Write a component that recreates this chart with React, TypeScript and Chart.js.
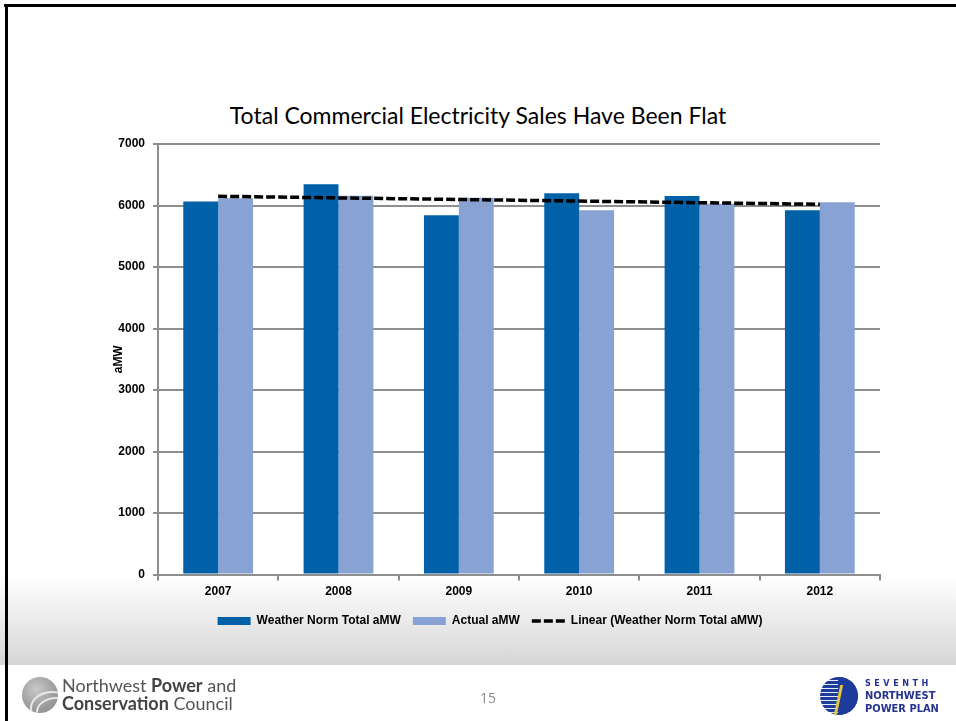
import React, { useEffect, useRef } from "react";
import { Chart, registerables } from "chart.js";

Chart.register(...registerables);

// ---- data ----
const categories = ["2007", "2008", "2009", "2010", "2011", "2012"];
const weatherNormTotal = [6066, 6344, 5840, 6200, 6155, 5922];
const actualAMW = [6120, 6159, 6125, 5922, 6030, 6055];
// straight trend line: read at its two ends, drawn across the gap
const linearTrend: (number | null)[] = [6150, null, null, null, null, 6020];
const yMin = 0;
const yMax = 7000;
const yStep = 1000;
const seriesNames = [
  "Weather Norm Total aMW",
  "Actual aMW",
  "Linear (Weather Norm Total aMW)",
];
const chartTitle = "Total Commercial Electricity Sales Have Been Flat";
const yAxisTitle = "aMW";
const pageNumber = "15";

const DARK = "#0060A8";
const LIGHT = "#87A2D3";
const GRID = "#8e8e8e";
const FONT = "'Liberation Sans', Arial, sans-serif";
const TREND_DASH = [9, 3];

export default function App() {
  const canvasRef = useRef<HTMLCanvasElement | null>(null);

  useEffect(() => {
    const canvas = canvasRef.current;
    if (!canvas) return;
    const tickFont = { family: FONT, size: 12, weight: "bold" as const };
    const chart = new Chart(canvas, {
      type: "bar",
      data: {
        labels: categories,
        datasets: [
          {
            type: "bar",
            label: seriesNames[0],
            data: weatherNormTotal,
            backgroundColor: DARK,
            categoryPercentage: 0.58,
            barPercentage: 1,
            order: 2,
          },
          {
            type: "bar",
            label: seriesNames[1],
            data: actualAMW,
            backgroundColor: LIGHT,
            categoryPercentage: 0.58,
            barPercentage: 1,
            order: 2,
          },
          {
            type: "line",
            label: seriesNames[2],
            data: linearTrend,
            borderColor: "#000000",
            backgroundColor: "#000000",
            borderWidth: 3.5,
            borderDash: TREND_DASH,
            pointRadius: 0,
            spanGaps: true,
            fill: false,
            order: 0,
          } as any,
        ],
      },
      options: {
        responsive: false,
        animation: false,
        layout: { padding: { left: 100, right: 76, top: 144, bottom: 84 } },
        plugins: {
          title: { display: false },
          tooltip: { enabled: false },
          legend: {
            position: "bottom",
            labels: {
              usePointStyle: true,
              pointStyleWidth: 33,
              boxHeight: 8,
              padding: 12,
              color: "#000000",
              font: tickFont,
              sort: (a: any, b: any) => a.datasetIndex - b.datasetIndex,
              generateLabels: (c: any) => {
                const items = (Chart.defaults.plugins.legend.labels as any).generateLabels(c);
                return items.map((it: any) =>
                  it.datasetIndex === 2
                    ? {
                        ...it,
                        pointStyle: "line",
                        lineWidth: 3.5,
                        lineDash: TREND_DASH,
                        strokeStyle: "#000000",
                      }
                    : { ...it, pointStyle: "rect", lineWidth: 0 }
                );
              },
            },
          },
        },
        scales: {
          x: {
            grid: {
              display: true,
              drawOnChartArea: false,
              drawTicks: true,
              tickLength: 6,
              color: GRID,
              lineWidth: 2,
            },
            border: { color: GRID, width: 2 },
            ticks: { color: "#000000", font: tickFont, padding: 4 },
          },
          y: {
            min: yMin,
            max: yMax,
            ticks: {
              stepSize: yStep,
              color: "#000000",
              font: tickFont,
              padding: 8,
              callback: (v: any) => String(v),
            },
            grid: { color: GRID, lineWidth: 2, tickLength: 5 },
            border: { color: GRID, width: 2 },
            title: {
              display: true,
              text: yAxisTitle,
              color: "#000000",
              font: tickFont,
              padding: { top: 11, bottom: 0 },
            },
            afterFit: (s: any) => {
              s.width = 58;
            },
          },
        },
      } as any,
    });
    return () => chart.destroy();
  }, []);

  return (
    <div
      style={{
        position: "absolute",
        left: 0,
        top: 0,
        width: 956,
        height: 721,
        overflow: "hidden",
        background: "#ffffff",
      }}
    >
      {/* gray gradient band below the chart */}
      <div
        style={{
          position: "absolute",
          left: 0,
          top: 576,
          width: 956,
          height: 89,
          background: "linear-gradient(#ffffff, #d6d6d6)",
        }}
      />
      {/* slide border */}
      <div style={{ position: "absolute", left: 4, top: 4, width: 952, height: 3, background: "#000" }} />
      <div style={{ position: "absolute", left: 5, top: 4, width: 3, height: 717, background: "#000" }} />

      {/* title */}
      <div
        style={{
          position: "absolute",
          left: 0,
          top: 101,
          width: 956,
          textAlign: "center",
          fontFamily: "Lato, 'Liberation Sans', sans-serif",
          fontSize: 23,
          lineHeight: "28px",
          color: "#000",
        }}
      >
        {chartTitle}
      </div>

      <canvas
        ref={canvasRef}
        width={956}
        height={721}
        style={{ position: "absolute", left: 0, top: 0, width: 956, height: 721 }}
      />

      {/* footer: left logo */}
      <div
        style={{
          position: "absolute",
          left: 22,
          top: 677,
          width: 36,
          height: 36,
          borderRadius: "50%",
          background:
            "radial-gradient(circle at 40% 35%, #c9c9c9 0%, #9b9b9b 60%, #8a8a8a 100%)",
          overflow: "hidden",
        }}
      >
        <div
          style={{
            position: "absolute",
            left: 8,
            top: 14,
            width: 40,
            height: 30,
            borderRadius: "50%",
            border: "2px solid #e8e8e8",
          }}
        />
        <div
          style={{
            position: "absolute",
            left: 14,
            top: 20,
            width: 36,
            height: 26,
            borderRadius: "50%",
            border: "2px solid #e8e8e8",
          }}
        />
      </div>
      <div
        style={{
          position: "absolute",
          left: 62,
          top: 676,
          fontFamily: "Lato, 'Liberation Sans', sans-serif",
          fontSize: 18,
          lineHeight: "18px",
          color: "#555",
          whiteSpace: "nowrap",
        }}
      >
        <div>
          Northwest <b style={{ color: "#444" }}>Power</b> and
        </div>
        <div>
          <b style={{ color: "#444" }}>Conservation</b> Council
        </div>
      </div>

      {/* page number */}
      <div
        style={{
          position: "absolute",
          left: 468,
          top: 688,
          width: 40,
          textAlign: "center",
          fontFamily: "'Open Sans', 'Liberation Sans', sans-serif",
          fontSize: 14,
          color: "#8a8a8a",
        }}
      >
        {pageNumber}
      </div>

      {/* footer: right logo */}
      <div
        style={{
          position: "absolute",
          left: 820,
          top: 677,
          width: 38,
          height: 38,
          borderRadius: "50%",
          background:
            "repeating-linear-gradient(180deg, #1d3b9a 0px, #1d3b9a 3px, #e8ecf7 3px, #e8ecf7 4px)",
          overflow: "hidden",
        }}
      >
        <div
          style={{
            position: "absolute",
            left: 18,
            top: 0,
            width: 20,
            height: 38,
            background: "#1d3b9a",
          }}
        />
        <div
          style={{
            position: "absolute",
            left: 17,
            top: 8,
            width: 3,
            height: 30,
            background: "#e6c340",
            transform: "skewX(-12deg)",
          }}
        />
      </div>
      <div
        style={{
          position: "absolute",
          left: 865,
          top: 677,
          fontFamily: "'DejaVu Sans Condensed', 'DejaVu Sans', sans-serif",
          fontWeight: "bold",
          color: "#25338f",
          whiteSpace: "nowrap",
        }}
      >
        <div style={{ fontSize: 9, lineHeight: "12px", letterSpacing: 3.5 }}>SEVENTH</div>
        <div style={{ fontSize: 11, lineHeight: "13px" }}>NORTHWEST</div>
        <div style={{ fontSize: 11, lineHeight: "13px" }}>POWER PLAN</div>
      </div>
    </div>
  );
}
